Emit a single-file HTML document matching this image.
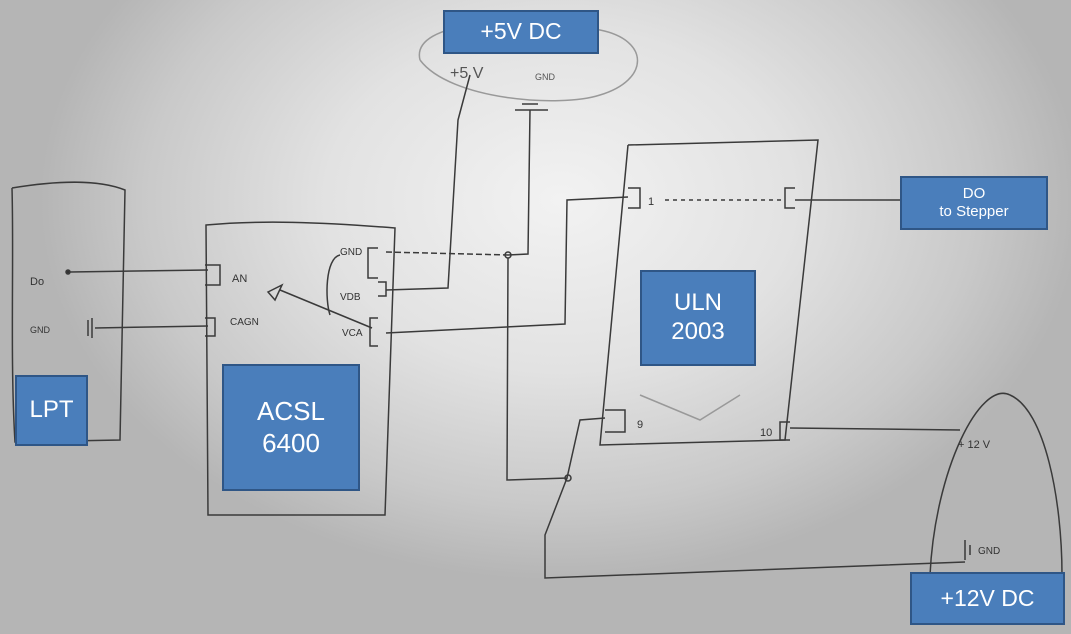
<!DOCTYPE html>
<html><head><meta charset="utf-8">
<style>
html,body{margin:0;padding:0}
body{width:1071px;height:634px;position:relative;overflow:hidden;
background:radial-gradient(ellipse 520px 380px at 560px 200px,#f2f2f2 0%,#e2e2e2 45%,#c9c9c9 80%,#b5b5b5 100%);
font-family:"Liberation Sans",sans-serif}
.b{position:absolute;background:#4a7ebb;border:2px solid #2f5686;color:#fff;display:flex;align-items:center;justify-content:center;text-align:center;box-sizing:border-box;line-height:1.2}
svg{position:absolute;left:0;top:0}
</style></head><body>
<svg width="1071" height="634" fill="none" stroke="#3a3a3a" stroke-width="1.5" font-family="Liberation Sans" font-size="11">
<!-- top ellipse -->
<path d="M420,60 C410,20 520,15 600,30 C650,40 650,80 600,95 C560,108 450,100 420,60" stroke="#999"/>
<!-- LPT outline -->
<path d="M12,188 C60,180 100,180 125,190 L120,440 L15,442 C10,360 14,260 12,188"/>
<!-- ACSL outline -->
<path d="M206,225 C260,220 320,222 395,228 L385,515 L208,515 Z"/>
<!-- ULN outline -->
<path d="M628,145 L818,140 L785,440 L600,445 L628,145"/>
<path d="M640,395 L700,420 L740,395" stroke="#999"/>
<!-- +12V arc -->
<path d="M930,575 C935,470 980,380 1010,395 C1045,410 1062,500 1062,575"/>
<!-- LPT pins -->
<circle cx="68" cy="272" r="2" fill="#333"/>
<path d="M70,272 L208,270"/>
<path d="M92,318 L92,338 M88,320 L88,336 M95,328 L208,326"/>
<text x="30" y="285" fill="#333" stroke="none">Do</text>
<text x="30" y="333" fill="#333" stroke="none" font-size="9">GND</text>
<!-- ACSL pins -->
<path d="M205,265 h15 v20 h-15 M205,318 h10 v18 h-10"/>
<text x="232" y="282" fill="#333" stroke="none">AN</text>
<text x="230" y="325" fill="#333" stroke="none" font-size="10">CAGN</text>
<path d="M268,292 L282,285 L275,300 Z M280,290 L372,328"/>
<path d="M378,248 h-10 v30 h10 M378,282 h8 v14 h-8 M378,318 h-8 v28 h8"/>
<path d="M340,255 C325,258 325,300 330,315"/>
<text x="340" y="255" fill="#333" stroke="none" font-size="10">GND</text>
<text x="340" y="300" fill="#333" stroke="none" font-size="10">VDB</text>
<text x="342" y="336" fill="#333" stroke="none" font-size="10">VCA</text>
<!-- wires -->
<path d="M386,252 L508,255" stroke-dasharray="6 3"/>
<path d="M508,255 L528,254 L530,110 M515,110 L548,110 M522,104 L538,104"/>
<path d="M386,290 L448,288 L458,120 L470,75"/>
<path d="M386,333 L565,324 L567,200 L628,197"/>
<path d="M508,258 L507,480 L567,478 L580,420 L605,418"/>
<path d="M567,478 L545,535 L545,578 L965,562"/>
<circle cx="508" cy="255" r="3"/>
<circle cx="568" cy="478" r="3"/>
<text x="450" y="78" fill="#555" stroke="none" font-size="16">+5 V</text>
<text x="535" y="80" fill="#555" stroke="none" font-size="9">GND</text>
<!-- ULN pins -->
<path d="M628,188 h12 v20 h-12 M795,188 h-10 v20 h10 M605,410 h20 v22 h-20 M790,422 h-10 v18 h10"/>
<path d="M665,200 L785,200" stroke-dasharray="4 4"/>
<path d="M795,200 L900,200"/>
<path d="M790,428 L960,430"/>
<text x="648" y="205" fill="#333" stroke="none">1</text>
<text x="637" y="428" fill="#333" stroke="none">9</text>
<text x="760" y="436" fill="#333" stroke="none">10</text>
<text x="958" y="448" fill="#333" stroke="none">+ 12 V</text>
<path d="M965,540 L965,560 M970,545 L970,555"/>
<text x="978" y="554" fill="#333" stroke="none" font-size="10">GND</text>
</svg>
<div class="b" style="left:443px;top:10px;width:156px;height:44px;font-size:23px">+5V DC</div>
<div class="b" style="left:900px;top:176px;width:148px;height:54px;font-size:15px">DO<br>to Stepper</div>
<div class="b" style="left:640px;top:270px;width:116px;height:96px;font-size:24px">ULN<br>2003</div>
<div class="b" style="left:15px;top:375px;width:73px;height:71px;font-size:24px">LPT</div>
<div class="b" style="left:222px;top:364px;width:138px;height:127px;font-size:26px">ACSL<br>6400</div>
<div class="b" style="left:910px;top:572px;width:155px;height:53px;font-size:23px">+12V DC</div>
</body></html>
